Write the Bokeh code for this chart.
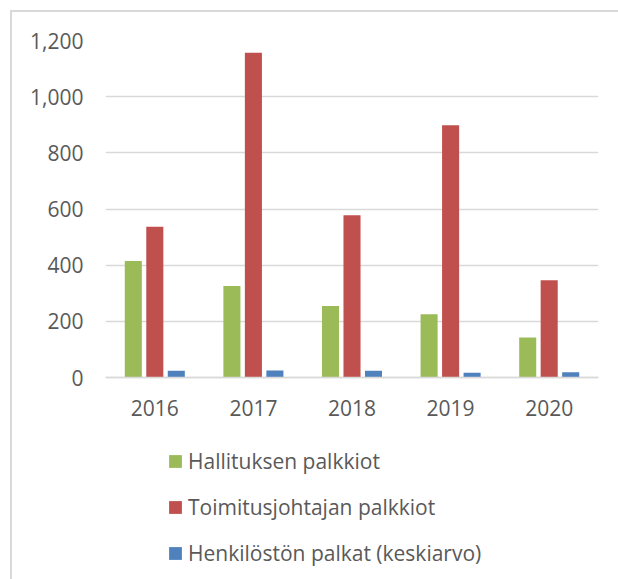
from bokeh.plotting import figure
from bokeh.models import FactorRange, Range1d, NumeralTickFormatter, FixedTicker, Legend, LegendItem
from bokeh.transform import dodge
from bokeh.embed import file_html
from bokeh.resources import INLINE

years = ["2016", "2017", "2018", "2019", "2020"]
hallitus = [415, 326, 255, 225, 142]
toimitus = [537, 1156, 578, 898, 346]
henkilosto = [24, 25, 24, 17, 19]
series_names = ["Hallituksen palkkiot", "Toimitusjohtajan palkkiot", "Henkilöstön palkat (keskiarvo)"]
y_ticks = [0, 200, 400, 600, 800, 1000, 1200]

colors = ["#9BBB59", "#C0504D", "#4F81BD"]
FONT = "Open Sans"
TXT = "#595959"

W, H = 618, 579
TOP, ZERO_Y, BOTTOM = 40, 377, 579   # frame top, zero line, frame bottom (px)
Y_MAX = 1200
y_start = -(BOTTOM - ZERO_Y) * Y_MAX / (ZERO_Y - TOP)

data = dict(year=years, h=hallitus, t=toimitus, k=henkilosto)

p = figure(x_range=FactorRange(*years, range_padding=0), y_range=Range1d(y_start, Y_MAX),
           width=W, height=H, output_backend="svg", toolbar_location=None,
           min_border_left=105, min_border_right=20, min_border_top=TOP, min_border_bottom=H - BOTTOM)

renderers = []
for key, off, c in zip(["h", "t", "k"], [-0.218, 0.0, 0.218], colors):
    r = p.vbar(x=dodge("year", off, range=p.x_range), top=key, width=0.173, source=data,
               fill_color=c, line_color=None)
    renderers.append(r)

p.border_fill_color = None
p.background_fill_color = None
p.outline_line_color = None
p.styles = {"box-shadow": "inset 10px 10px 0 0 white, inset 12px 12px 0 0 #d9d9d9"}

p.xgrid.grid_line_color = None
p.ygrid.grid_line_color = "#d9d9d9"
p.ygrid.grid_line_width = 1.5

p.yaxis.ticker = FixedTicker(ticks=y_ticks)
p.ygrid.ticker = FixedTicker(ticks=y_ticks)
p.yaxis.formatter = NumeralTickFormatter(format="0,0")
p.yaxis.axis_line_color = None
p.yaxis.major_tick_line_color = None
p.yaxis.minor_tick_line_color = None
p.yaxis.major_label_standoff = 16

p.xaxis.fixed_location = 0
p.xaxis.axis_line_color = "#d9d9d9"
p.xaxis.axis_line_width = 1.5
p.xaxis.major_tick_line_color = None
p.xaxis.minor_tick_line_color = None
p.xaxis.major_label_standoff = 16

for ax in (p.xaxis[0], p.yaxis[0]):
    ax.major_label_text_font = FONT
    ax.major_label_text_font_size = "21px"
    ax.major_label_text_color = TXT

legend = Legend(items=[LegendItem(label=n, renderers=[r]) for n, r in zip(series_names, renderers)],
                orientation="vertical", location=(62, 12),
                glyph_width=16, glyph_height=16, label_height=16, label_standoff=5,
                spacing=18, padding=0, margin=0,
                label_text_font=FONT, label_text_font_size="21px", label_text_color=TXT,
                background_fill_alpha=0, border_line_color=None)
p.add_layout(legend, "center")

open("out.html", "w").write(file_html(p, INLINE))
